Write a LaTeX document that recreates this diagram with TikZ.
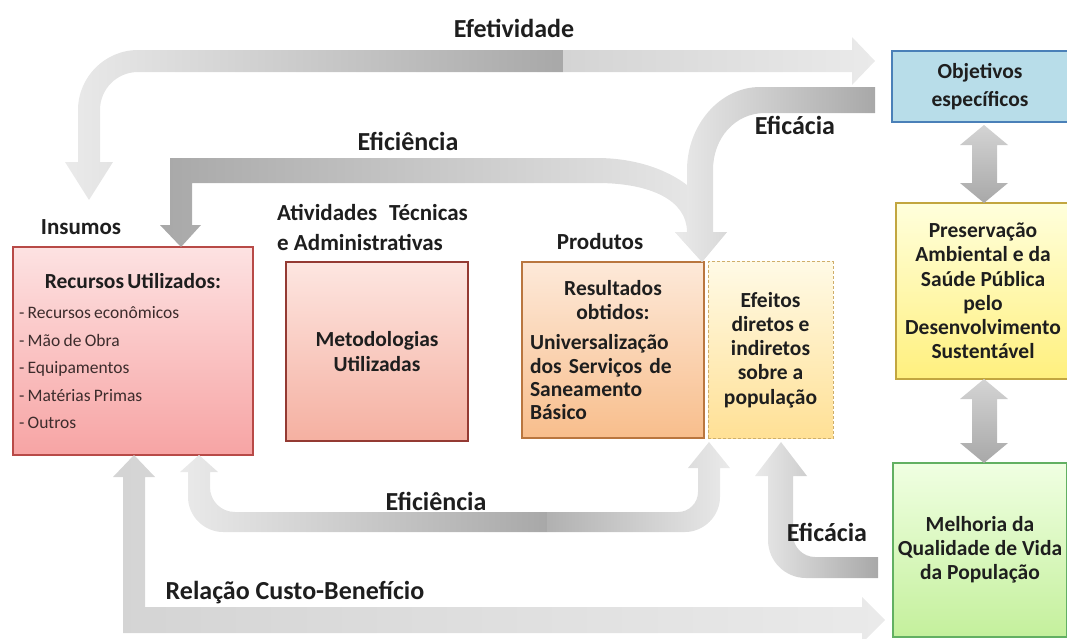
\documentclass[tikz,border=0pt]{standalone}
\usepackage{fontspec}
\setmainfont{Carlito}
\usetikzlibrary{positioning}

\definecolor{txtdark}{HTML}{1E1E1E}
\definecolor{listtxt}{HTML}{3C2C2C}
\definecolor{recTop}{HTML}{FDE2E2}
\definecolor{recBot}{HTML}{F7A4A4}
\definecolor{recLine}{HTML}{B84A47}
\definecolor{metTop}{HTML}{FDE6E1}
\definecolor{metBot}{HTML}{F5B0A1}
\definecolor{metLine}{HTML}{943A33}
\definecolor{resTop}{HTML}{FDE9D9}
\definecolor{resBot}{HTML}{F8BE8C}
\definecolor{resLine}{HTML}{B9763F}
\definecolor{efeTop}{HTML}{FFFAE6}
\definecolor{efeBot}{HTML}{FFE095}
\definecolor{efeLine}{HTML}{CFAE6A}
\definecolor{objFill}{HTML}{B8DDE9}
\definecolor{objLine}{HTML}{4A80B8}
\definecolor{preTop}{HTML}{FFFFDC}
\definecolor{preBot}{HTML}{FFF07E}
\definecolor{preLine}{HTML}{C2A640}
\definecolor{melTop}{HTML}{F0FFE2}
\definecolor{melBot}{HTML}{C4F09C}
\definecolor{melLine}{HTML}{62B062}
\definecolor{arrLight}{HTML}{EAEAEA}
\definecolor{arrMid}{HTML}{D4D4D4}
\definecolor{arrDark}{HTML}{A8A8A8}

\tikzset{
  boxbase/.style = {
    rectangle, draw, line width=1.2pt, inner sep=0pt,
    align=center, text=txtdark
  },
  boxtxt/.style = {font=\fontsize{21.5}{24.2}\selectfont\bfseries},
  lbl/.style    = {font=\fontsize{26}{28}\selectfont\bfseries, text=txtdark, inner sep=0pt},
  seclbl/.style = {font=\fontsize{23}{30}\selectfont\bfseries, text=txtdark, inner sep=0pt},
  blockarr/.style = {draw=none}
}

\begin{document}
\begin{tikzpicture}[x=1pt, y=-1pt]
\useasboundingbox (0,0) rectangle (1067,638);

%% boxes of the chain
\node[boxbase, top color=recTop, bottom color=recBot, draw=recLine,
      minimum width=240pt, minimum height=208pt, text width=228pt, align=left]
      (rec) at (133,351)
      {{\centering\fontsize{21.5}{24}\selectfont\bfseries Recursos Utilizados:\par}
       \vspace{3pt}
       {\fontsize{17.5}{27.5}\selectfont\color{listtxt}
        - Recursos econômicos\\- Mão de Obra\\- Equipamentos\\- Matérias Primas\\- Outros\par}};
\node[boxbase, boxtxt, top color=metTop, bottom color=metBot, draw=metLine,
      minimum width=182pt, minimum height=179pt]
      (met) at (377,351.5) {Metodologias\\Utilizadas};
\node[boxbase, boxtxt, top color=resTop, bottom color=resBot, draw=resLine,
      minimum width=182pt, minimum height=176pt, text width=166pt, align=left]
      (res) at (613,350)
      {{\centering Resultados\\obtidos:\par}
       \vspace{7pt}
       {\fontsize{21.5}{23.4}\selectfont Universalização\\
        \makebox[\hsize][s]{dos Serviços de}\\Saneamento\\Básico\par}};
\node[boxbase, boxtxt, top color=efeTop, bottom color=efeBot, draw=efeLine,
      line width=0.9pt, dash pattern=on 3pt off 2pt,
      minimum width=125pt, minimum height=177pt]
      (efe) at (770.5,350) {Efeitos\\diretos e\\indiretos\\sobre a\\população};

%% right column
\node[boxbase, fill=objFill, draw=objLine, font=\fontsize{21.5}{28}\selectfont\bfseries,
      minimum width=176pt, minimum height=71pt]
      (obj) at (980,86.5) {Objetivos\\específicos};
\node[boxbase, boxtxt, top color=preTop, bottom color=preBot, draw=preLine,
      minimum width=174pt, minimum height=176pt]
      (pre) at (983,291) {Preservação\\Ambiental e da\\Saúde Pública\\pelo\\Desenvolvimento\\Sustentável};
\node[boxbase, boxtxt, top color=melTop, bottom color=melBot, draw=melLine,
      minimum width=174pt, minimum height=174pt]
      (mel) at (980,550) {Melhoria da\\Qualidade de Vida\\da População};

%% Efetividade: back to the inputs
\path[blockarr, left color=arrLight, right color=arrDark]
  (563,50) -- (138,50) .. controls (105,50) and (78,77) .. (78,110)
  -- (78,162) -- (65,162) -- (89,200) -- (113,162) -- (100,162) -- (100,110)
  .. controls (100,89) and (117,72) .. (138,72) -- (563,72) -- cycle;
%% Efetividade: on to the objectives
\path[blockarr, left color=arrMid, right color=arrLight]
  (563,50) -- (852,50) -- (852,37) -- (875,61) -- (852,85) -- (852,72)
  -- (563,72) -- cycle;

%% Eficiencia (top): down into the inputs and round to the products
\path[blockarr, left color=arrDark, right color=arrLight]
  (170,158) -- (597,158) .. controls (660,158) and (713,190) .. (713,232)
  -- (727,232) -- (702,262) -- (675,232) -- (687,232)
  .. controls (687,200) and (650,183) .. (597,183)
  -- (192,183) -- (192,225) -- (201,225) -- (181,247) -- (160,225) -- (170,225) -- cycle;

%% Eficacia (top): from the objectives down to the products
\path[blockarr, left color=arrLight, right color=arrDark]
  (875,87) -- (760,87) .. controls (720,87) and (687,125) .. (687,170)
  -- (687,232) -- (675,232) -- (702,262) -- (727,232) -- (713,232) -- (713,170)
  .. controls (713,138) and (735,113) .. (765,113) -- (875,113) -- cycle;

%% Eficiencia (bottom): left branch up into the inputs
\path[blockarr, left color=arrLight, right color=arrDark]
  (547,512) -- (235,512) .. controls (221,512) and (210,501) .. (210,487)
  -- (210,472) -- (218,472) -- (199,455) -- (180,472) -- (188,472) -- (188,497)
  .. controls (188,516) and (204,532) .. (223,532) -- (547,532) -- cycle;
%% Eficiencia (bottom): right branch up into the products
\path[blockarr, left color=arrDark!80!arrMid, right color=arrLight]
  (547,512) -- (678,512) .. controls (689,512) and (698,503) .. (698,492)
  -- (698,468) -- (688,468) -- (709,442) -- (730,468) -- (720,468) -- (720,497)
  .. controls (720,516) and (704,532) .. (685,532) -- (547,532) -- cycle;

%% Eficacia (bottom): from quality of life up to the effects
\path[blockarr, left color=arrLight, right color=arrDark]
  (878,557) -- (815,557) .. controls (803,557) and (793,547) .. (793,535)
  -- (793,476) -- (807,476) -- (781,442) -- (755,476) -- (768,476) -- (768,540)
  .. controls (768,561) and (785,578) .. (806,578) -- (878,578) -- cycle;

%% Relacao custo-beneficio
\path[blockarr, left color=arrMid, middle color=arrMid!70!arrLight, right color=arrLight]
  (123,633) -- (123,477) -- (113,477) -- (134,455) -- (155,477) -- (145,477)
  -- (145,607) -- (862,607) -- (862,597) -- (885,620) -- (862,643) -- (862,633) -- cycle;

%% double arrows of the right column
\foreach \ya/\yb in {125/203, 379/463}
  \path[blockarr, top color=arrMid, bottom color=arrDark]
    (984,\ya) -- (1008,\ya+20) -- (997,\ya+20) -- (997,\yb-20) -- (1008,\yb-20)
    -- (984,\yb) -- (960,\yb-20) -- (972,\yb-20) -- (972,\ya+20) -- (960,\ya+20) -- cycle;

%% labels
\node[lbl] (tEfet)     at (514,28)  {Efetividade};
\node[lbl] (tEficSup)  at (408,141) {Eficiência};
\node[lbl] (tEficaSup) at (795,125) {Eficácia};
\node[lbl] (tEficInf)  at (436,501) {Eficiência};
\node[lbl] (tEficaInf) at (827,532) {Eficácia};
\node[lbl] (tRel)      at (295,593) {Relação Custo-Benefício};

\node[seclbl] (tIns)  at (81,227)  {Insumos};
\node[seclbl, align=left, anchor=west]
      (tAtiv) at (277,227) {Atividades\hspace{12pt}Técnicas\\e Administrativas};
\node[seclbl] (tProd) at (600,242) {Produtos};

\end{tikzpicture}
\end{document}
